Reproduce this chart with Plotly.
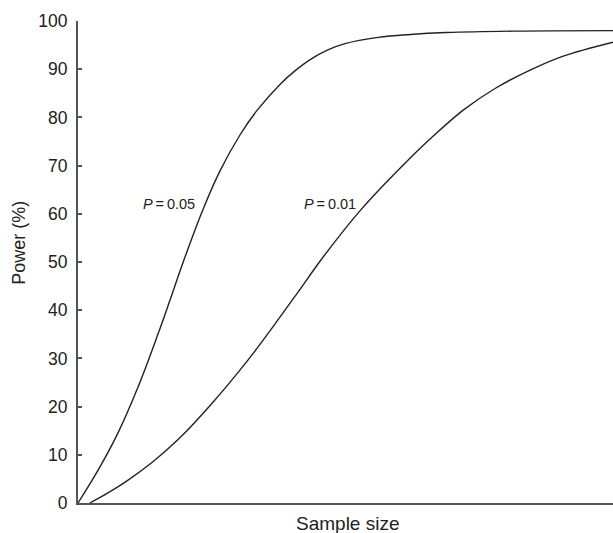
import plotly.graph_objects as go

# Power curves (x: relative sample size 0-100, y: power %)
x_p05 = [0, 3.7, 7.5, 11.2, 15.0, 17.2, 19.6, 23.4, 26.5, 30.3, 33.5, 37.8, 40.6, 43.4, 46.7, 49.9, 56.1, 62.1, 68.8, 81.3, 100]
y_p05 = [0, 6.7, 14.6, 24.0, 35.2, 42.1, 49.8, 61.0, 68.8, 76.4, 81.5, 86.9, 89.7, 92.0, 94.0, 95.3, 96.6, 97.2, 97.6, 97.9, 98.0]

x_p01 = [2.2, 5.6, 9.3, 14.0, 18.7, 24.9, 31.8, 36.4, 40.9, 45.2, 49.5, 52.7, 57.0, 61.3, 65.8, 72.0, 78.1, 84.5, 90.7, 100]
y_p01 = [0, 2.1, 4.7, 8.55, 13.15, 20.5, 29.7, 36.5, 43.4, 50.1, 56.3, 60.6, 65.8, 70.7, 75.5, 81.5, 86.1, 89.8, 92.7, 95.6]

y_ticks = [0, 10, 20, 30, 40, 50, 60, 70, 80, 90, 100]
labels = ["<i>P</i>\u2009=\u20090.05", "<i>P</i>\u2009=\u20090.01"]
label_x = [17.0, 47.1]
label_y = [62.0, 62.0]

FONT = "Liberation Sans, Arial, sans-serif"
LINE = "#222222"
AXIS = "#555555"
TEXT = "#222222"

fig = go.Figure()
for xs, ys in [(x_p05, y_p05), (x_p01, y_p01)]:
    fig.add_trace(go.Scatter(x=xs, y=ys, mode="lines",
                             line=dict(color=LINE, width=1.4, shape="spline", smoothing=1.0),
                             showlegend=False, hoverinfo="skip"))

for t, lx, ly in zip(labels, label_x, label_y):
    fig.add_annotation(x=lx, y=ly, text=t, showarrow=False,
                       font=dict(family=FONT, size=14.5, color=TEXT))

fig.add_annotation(xref="paper", yref="paper", x=0.505, y=-0.042, yanchor="middle",
                   text="Sample size", showarrow=False,
                   font=dict(family=FONT, size=19, color=TEXT))
fig.add_annotation(xref="paper", yref="paper", x=-0.1093, y=0.539, textangle=-90,
                   xanchor="center", yanchor="middle",
                   text="Power (%)", showarrow=False,
                   font=dict(family=FONT, size=18, color=TEXT))

fig.update_layout(
    width=613, height=533,
    margin=dict(l=78, r=0, t=21, b=30, pad=0),
    paper_bgcolor="white", plot_bgcolor="white",
    font=dict(family=FONT, size=17.5, color=TEXT),
    xaxis=dict(range=[0, 100], showgrid=False, zeroline=False, showticklabels=False,
               ticks="", showline=True, linecolor=AXIS, linewidth=2),
    yaxis=dict(range=[0, 100], tickvals=y_ticks, showgrid=False, zeroline=False,
               ticks="inside", ticklen=4, tickcolor=AXIS, tickwidth=1.5,
               showline=True, linecolor=AXIS, linewidth=2,
               ticklabelstandoff=5, tickfont=dict(family=FONT, size=17.5, color=TEXT)),
)

fig.write_html("out.html",
               config={"displayModeBar": False},
               post_script="document.body.style.margin='0';document.body.style.padding='0';"
                           "document.body.style.overflow='hidden';")
